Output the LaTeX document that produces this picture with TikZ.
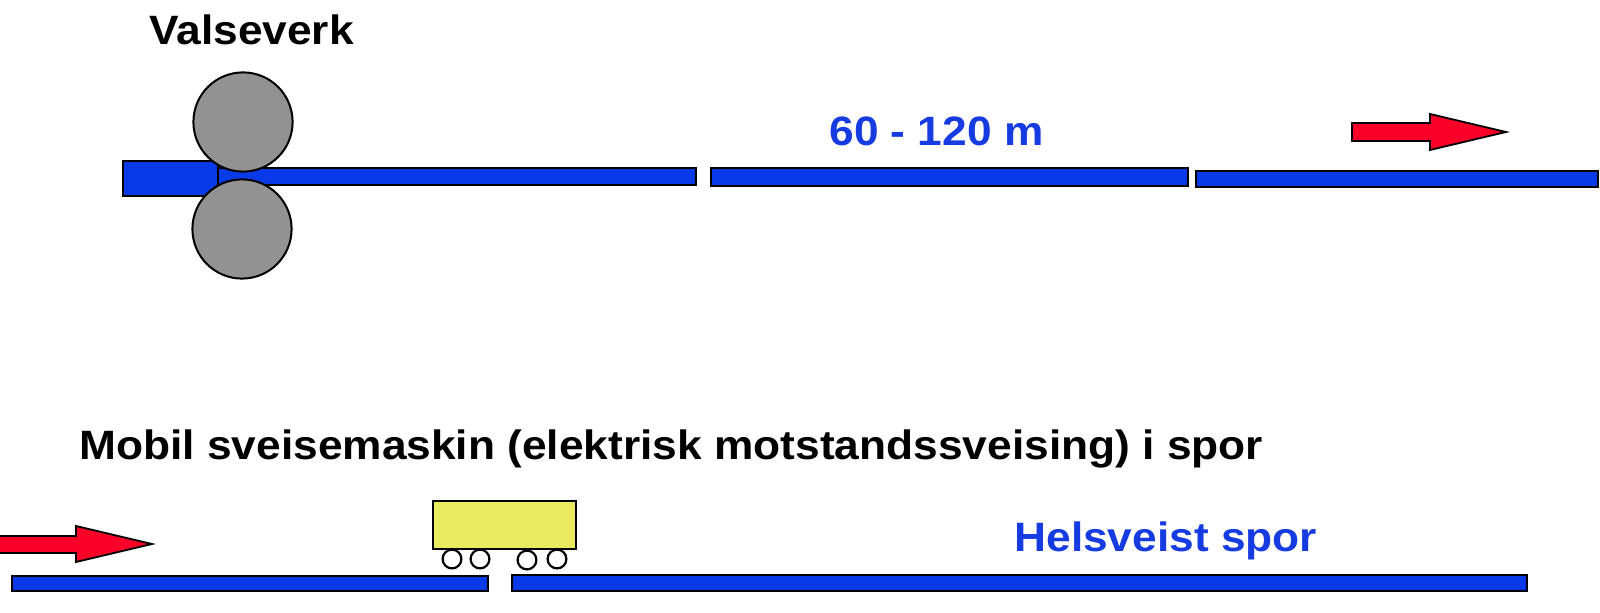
\documentclass[tikz,border=0pt]{standalone}
\usepackage{fontspec}
\setmainfont{Liberation Sans}
\definecolor{barblue}{RGB}{8,58,232}
\definecolor{txtblue}{RGB}{22,60,225}
\definecolor{arrowred}{RGB}{250,0,40}
\definecolor{rollgray}{RGB}{146,146,146}
\definecolor{cartyellow}{RGB}{234,234,96}
\tikzset{
  bar/.style={draw=black, line width=1pt, fill=barblue},
  roller/.style={draw=black, line width=1pt, fill=rollgray},
  redarrow/.style={draw=black, line width=0.9pt, fill=arrowred, line join=miter},
  cart/.style={draw=black, line width=1pt, fill=cartyellow},
  wheel/.style={draw=black, line width=1.1pt, fill=white},
  lbl/.style={anchor=base west, inner sep=0pt, font=\bfseries\fontsize{20.5pt}{24pt}\selectfont},
}
\newcommand{\wide}[1]{\scalebox{1.08}[1]{#1}}
\begin{document}
\begin{tikzpicture}[x=0.5pt,y=-0.5pt]
\useasboundingbox (0,0) rectangle (1600,613);
% top: rolling mill
\draw[bar] (123,161) rectangle (218,196);
\draw[bar] (218,168) rectangle (696,185);
\draw[bar] (711,168) rectangle (1188,186);
\draw[bar] (1196,171) rectangle (1598,187);
\draw[roller] (243,122) circle[radius=24.8pt];
\draw[roller] (242,229) circle[radius=24.8pt];
\draw[redarrow] (1352,123) -- (1430,123) -- (1430,114) -- (1506,132) -- (1430,150) -- (1430,141) -- (1352,141) -- cycle;
\node[lbl] (valseverk) at (149,45) {\wide{Valseverk}};
\node[lbl, text=txtblue] (length) at (829,146) {\wide{60 - 120 m}};
% bottom: mobile welding machine
\node[lbl] (mobil) at (79,460) {\wide{Mobil sveisemaskin (elektrisk motstandssveising) i spor}};
\draw[redarrow] (-6,536) -- (76,536) -- (76,526) -- (152,544) -- (76,562) -- (76,553) -- (-6,553) -- cycle;
\draw[bar] (12,576) rectangle (488,591);
\draw[bar] (512,575) rectangle (1527,591);
\draw[cart] (433,501) rectangle (576,549);
\draw[wheel] (452,559) circle[radius=4.7pt];
\draw[wheel] (480,559) circle[radius=4.7pt];
\draw[wheel] (527,560) circle[radius=4.7pt];
\draw[wheel] (557,559) circle[radius=4.7pt];
\node[lbl, text=txtblue] (helsveist) at (1014,552) {\wide{Helsveist spor}};
\end{tikzpicture}
\end{document}
